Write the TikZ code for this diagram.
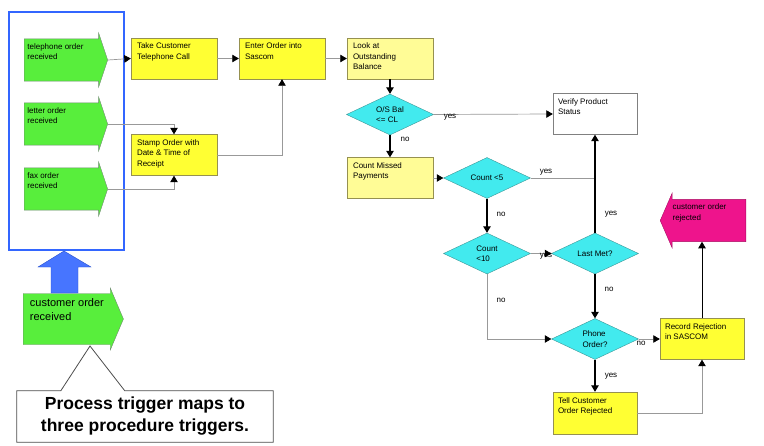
\documentclass[tikz,border=0pt]{standalone}
\usepackage{fontspec}
\setmainfont{Liberation Sans}
\usetikzlibrary{shapes.geometric,shapes.arrows,arrows.meta}

\definecolor{verdeev}{RGB}{88,238,60}
\definecolor{bordeev}{RGB}{110,140,110}
\definecolor{amarillo}{RGB}{255,255,51}
\definecolor{amarpal}{RGB}{255,252,150}
\definecolor{bordecaja}{RGB}{150,145,80}
\definecolor{cian}{RGB}{66,234,238}
\definecolor{bordecian}{RGB}{60,150,150}
\definecolor{magenta}{RGB}{238,20,140}
\definecolor{azul}{RGB}{51,102,255}

\begin{document}
\begin{tikzpicture}[x=1pt,y=-1pt,
  every node/.style={font=\fontsize{8}{10.5}\selectfont},
  evento/.style={single arrow, draw=bordeev, fill=verdeev, inner sep=3pt, anchor=tail,
    single arrow head extend=5.5pt, single arrow tip angle=143, minimum width=54pt},
  caja/.style={rectangle, draw=bordecaja, fill=amarillo, inner sep=0pt,
    minimum width=86pt, minimum height=41pt},
  cajapal/.style={caja, fill=amarpal},
  decision/.style={diamond, aspect=2, draw=bordecian, fill=cian, inner sep=0pt,
    minimum width=87pt, minimum height=41pt, align=left},
  link/.style={draw=gray!80, line width=0.7pt, -{Triangle[length=6.5pt,width=7.5pt,color=black]}},
  vlink/.style={link, draw=black, line width=1.1pt},
  lbl/.style={inner sep=0pt}]
  \useasboundingbox (0,0) rectangle (764,445);
  \def\ctexto#1{\parbox[c][31pt][t]{74pt}{\raggedright #1}}
  \def\etexto#1{\parbox[c][33pt][t]{70pt}{\raggedright #1}}

  % disparadores de procedimiento
  \node[draw=azul, line width=2.5pt, minimum width=115pt, minimum height=238pt] (grupo) at (66.5,131) {};
  \node[evento] (telefono) at (24,60) {\etexto{telephone order\\received}};
  \node[evento] (carta) at (24,124) {\etexto{letter order\\received}};
  \node[evento] (fax) at (24,189) {\etexto{fax order\\received}};

  % disparador de proceso
  \node[evento, font=\fontsize{11}{13.5}\selectfont, inner xsep=6.5pt, minimum width=62pt,
    single arrow head extend=5pt, single arrow tip angle=134] (recibido) at (23,319)
    {\parbox[c][40pt][t]{76pt}{\raggedright customer order\\received}};
  \filldraw[fill=azul!90!white, draw=azul!80!black] (51,293) -- (51,267) -- (38,267) -- (64,251)
    -- (91,267) -- (78,267) -- (78,293) -- cycle;
  \node[font=\bfseries\fontsize{17.5}{22}\selectfont, align=center, minimum width=256pt,
    minimum height=51pt] (nota) at (145,416.5) {Process trigger maps to\\three procedure triggers.};
  \coordinate (punta) at (90,346);
  \draw[gray!60!black, line width=0.8pt] (nota.north west) -- ([xshift=44pt]nota.north west) -- (punta)
    -- ([xshift=108pt]nota.north west) -- (nota.north east) -- (nota.south east)
    -- (nota.south west) -- cycle;

  % procedimiento
  \node[caja] (tomar) at (174,58.5) {\ctexto{Take Customer\\Telephone Call}};
  \node[caja] (sellar) at (174,155) {\ctexto{Stamp Order with\\Date \& Time of\\Receipt}};
  \node[caja] (ingresar) at (282,58.5) {\ctexto{Enter Order into\\Sascom}};
  \node[cajapal] (saldo) at (390,58.5) {\ctexto{Look at\\Outstanding\\Balance}};
  \node[decision] (limite) at (390,114.5) {O/S Bal\\<= CL};
  \node[cajapal] (contar) at (390,178) {\ctexto{Count Missed\\Payments}};
  \node[decision] (menorcinco) at (487,178) {Count <5};
  \node[decision] (menordiez) at (487,253.5) {Count\\<10};
  \node[decision] (ultimo) at (595,253.5) {Last Met?};
  \node[decision] (telpedido) at (595,339) {Phone\\Order?};
  \node[caja, fill=white, draw=gray, minimum width=84pt] (verificar) at (595,114) {\ctexto{Verify Product\\Status}};
  \node[caja, minimum width=84pt] (registrar) at (702,339) {\ctexto{Record Rejection\\in SASCOM}};
  \node[caja, minimum width=84pt, minimum height=42pt] (avisar) at (595,413) {\ctexto{Tell Customer\\Order Rejected}};
  \node[evento, fill=magenta, draw=magenta!70!black, shape border rotate=180, minimum width=55pt,
    single arrow head extend=6pt, single arrow tip angle=133] (rechazo) at (746,220.5)
    {\etexto{customer order\\rejected}};

  % conectores
  \draw[link] (telefono.tip) -- (tomar.west);
  \draw[link] (carta.tip) -| (sellar.north);
  \draw[link] (fax.tip) -| (sellar.south);
  \draw[link] (tomar.east) -- (ingresar.west);
  \draw[link] (sellar.east) -| (ingresar.south);
  \draw[link] (ingresar.east) -- (saldo.west);
  \draw[vlink] (saldo.south) -- (limite.north);
  \draw[link] (limite.east) -- (verificar.west);
  \draw[vlink] (limite.south) -- (contar.north);
  \draw[link] (contar.east) -- (menorcinco.west);
  \coordinate (union) at (menorcinco.east -| ultimo.north);
  \draw[link, -] (menorcinco.east) -- (union);
  \draw[vlink] (menorcinco.south) -- (menordiez.north);
  \draw[link] (menordiez.east) -- (ultimo.west);
  \draw[link] (menordiez.south) |- (telpedido.west);
  \draw[vlink] (ultimo.north) -- (verificar.south);
  \draw[vlink] (ultimo.south) -- (telpedido.north);
  \draw[link] (telpedido.east) -- (registrar.west);
  \draw[vlink] (telpedido.south) -- (avisar.north);
  \draw[link] (avisar.east) -| (registrar.south);
  \draw[vlink, line width=0.8pt] (registrar.north) -- (registrar.north |- rechazo.south);

  % etiquetas
  \node[lbl] (si1) at (450,117) {yes};
  \node[lbl] (no1) at (405,139) {no};
  \node[lbl] (si2) at (546,172) {yes};
  \node[lbl] (no2) at (501,214) {no};
  \node[lbl] (si3) at (546,256) {yes};
  \node[lbl] (no3) at (501,300) {no};
  \node[lbl] (si4) at (611,214) {yes};
  \node[lbl] (no4) at (609,289) {no};
  \node[lbl] (no5) at (641,343) {no};
  \node[lbl] (si5) at (611,376) {yes};
\end{tikzpicture}
\end{document}
